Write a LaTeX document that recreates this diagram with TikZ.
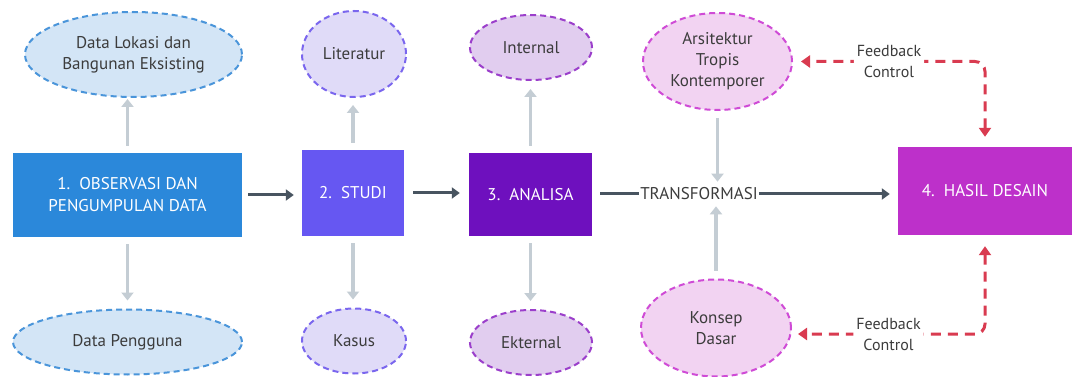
\documentclass[tikz,border=0pt]{standalone}
\usepackage{fontspec}
\setmainfont{PT Sans}
\usetikzlibrary{shapes.geometric,arrows.meta}
\begin{document}
\begin{tikzpicture}[x=1pt,y=-1pt,
  box/.style={rectangle,inner sep=0pt,text=white,align=center,font=\fontsize{17}{22}\selectfont},
  bubble/.style={ellipse,inner sep=0pt,line width=2pt,dash pattern=on 6pt off 4pt,text=textColor,align=center,font=\fontsize{17}{21}\selectfont},
  lightArrow/.style={draw=lightColor,line width=3.5pt,-{Triangle[width=12pt,length=8pt]}},
  darkArrow/.style={draw=darkColor,line width=3pt,-{Triangle[width=11pt,length=8pt]}},
  feedback/.style={draw=redColor,line width=3pt,dash pattern=on 10pt off 7pt,rounded corners=10pt,{Triangle[width=12pt,length=9pt]}-{Triangle[width=12pt,length=9pt]}}]
\definecolor{fillColor}{RGB}{255,255,255}
\definecolor{textColor}{RGB}{60,60,60}
\definecolor{lightColor}{RGB}{196,205,212}
\definecolor{darkColor}{RGB}{72,84,96}
\definecolor{redColor}{RGB}{217,59,80}
\definecolor{obsColor}{RGB}{43,136,218}
\definecolor{obsFill}{RGB}{211,229,246}
\definecolor{obsLine}{RGB}{74,149,218}
\definecolor{studiColor}{RGB}{102,87,242}
\definecolor{studiFill}{RGB}{224,219,248}
\definecolor{studiLine}{RGB}{122,102,238}
\definecolor{analisaColor}{RGB}{110,16,190}
\definecolor{analisaFill}{RGB}{225,205,239}
\definecolor{analisaLine}{RGB}{155,63,203}
\definecolor{hasilColor}{RGB}{189,48,202}
\definecolor{hasilFill}{RGB}{242,211,242}
\definecolor{hasilLine}{RGB}{207,75,214}
\path[use as bounding box,fill=fillColor] (0,0) rectangle (1072,377);

\node[box,fill=obsColor,minimum width=229pt,minimum height=84pt] (observasi) at (127.5,195) {1.~~OBSERVASI DAN\\PENGUMPULAN DATA};
\node[box,fill=studiColor,minimum width=102pt,minimum height=86pt] (studi) at (353,193) {2.~~STUDI};
\node[box,fill=analisaColor,minimum width=123pt,minimum height=83pt] (analisa) at (530.5,194.5) {3.~~ANALISA};
\node[box,fill=hasilColor,minimum width=174pt,minimum height=88pt] (hasil) at (985,191) {4.~~HASIL DESAIN};

\node[bubble,draw=obsLine,fill=obsFill,minimum width=217pt,minimum height=85pt] (lokasi) at (133.5,54.5) {Data Lokasi dan\\Bangunan Eksisting};
\node[bubble,draw=obsLine,fill=obsFill,minimum width=229pt,minimum height=65pt] (pengguna) at (127.5,342) {Data Pengguna};
\node[bubble,draw=studiLine,fill=studiFill,minimum width=104pt,minimum height=86pt] (literatur) at (354,54) {Literatur};
\node[bubble,draw=studiLine,fill=studiFill,minimum width=104pt,minimum height=65pt] (kasus) at (354,341) {Kasus};
\node[bubble,draw=analisaLine,fill=analisaFill,minimum width=122pt,minimum height=65pt] (internal) at (531,47.5) {Internal};
\node[bubble,draw=analisaLine,fill=analisaFill,minimum width=122pt,minimum height=65pt] (ekternal) at (531,342.5) {Ekternal};
\node[bubble,draw=hasilLine,fill=hasilFill,minimum width=149pt,minimum height=97pt] (arsitektur) at (717.5,61.5) {Arsitektur\\Tropis\\Kontemporer};
\node[bubble,draw=hasilLine,fill=hasilFill,minimum width=150pt,minimum height=97pt] (konsep) at (716,328) {Konsep\\Dasar};

\node[inner sep=1pt,text=textColor,font=\fontsize{17}{20}\selectfont] (transformasi) at (699,194) {TRANSFORMASI};

\draw[lightArrow,shorten <=7pt,shorten >=1pt] (observasi.north) -- (observasi.north |- lokasi.south);
\draw[lightArrow,shorten <=7pt,shorten >=8pt] (observasi.south) -- (observasi.south |- pengguna.north);
\draw[lightArrow,shorten <=7pt,shorten >=7pt] (studi.north) -- (studi.north |- literatur.south);
\draw[lightArrow,shorten <=7pt,shorten >=8pt] (studi.south) -- (studi.south |- kasus.north);
\draw[lightArrow,shorten <=7pt,shorten >=8pt] (analisa.north) -- (analisa.north |- internal.south);
\draw[lightArrow,shorten <=7pt,shorten >=8pt] (analisa.south) -- (analisa.south |- ekternal.north);
\draw[lightArrow,shorten <=7pt,shorten >=5pt] (arsitektur.south) -- (arsitektur.south |- transformasi.north);
\draw[lightArrow,shorten <=8pt,shorten >=5pt] (konsep.north) -- (konsep.north |- transformasi.south);

\draw[darkArrow,shorten <=6pt,shorten >=8pt] (observasi) -- (observasi -| studi.west);
\draw[darkArrow,shorten <=9pt,shorten >=9pt] (studi) -- (studi -| analisa.west);
\draw[darkColor,line width=3pt,shorten <=8pt] (analisa.east |- transformasi) -- (transformasi.west);
\draw[darkArrow,shorten >=8pt] (transformasi.east) -- (transformasi -| hasil.west);

\draw[feedback,shorten <=10pt,shorten >=8pt] (hasil.north) |- (arsitektur.east) node[pos=0.75,fill=fillColor,inner sep=3pt,text=textColor,align=center,font=\fontsize{16}{21}\selectfont] (fbAtas) {Feedback\\Control};
\draw[feedback,shorten <=11pt,shorten >=6pt] (hasil.south) |- ([yshift=-6pt]konsep.east) node[pos=0.75,fill=fillColor,inner sep=3pt,text=textColor,align=center,font=\fontsize{16}{21}\selectfont] (fbBawah) {Feedback\\Control};
\end{tikzpicture}
\end{document}
